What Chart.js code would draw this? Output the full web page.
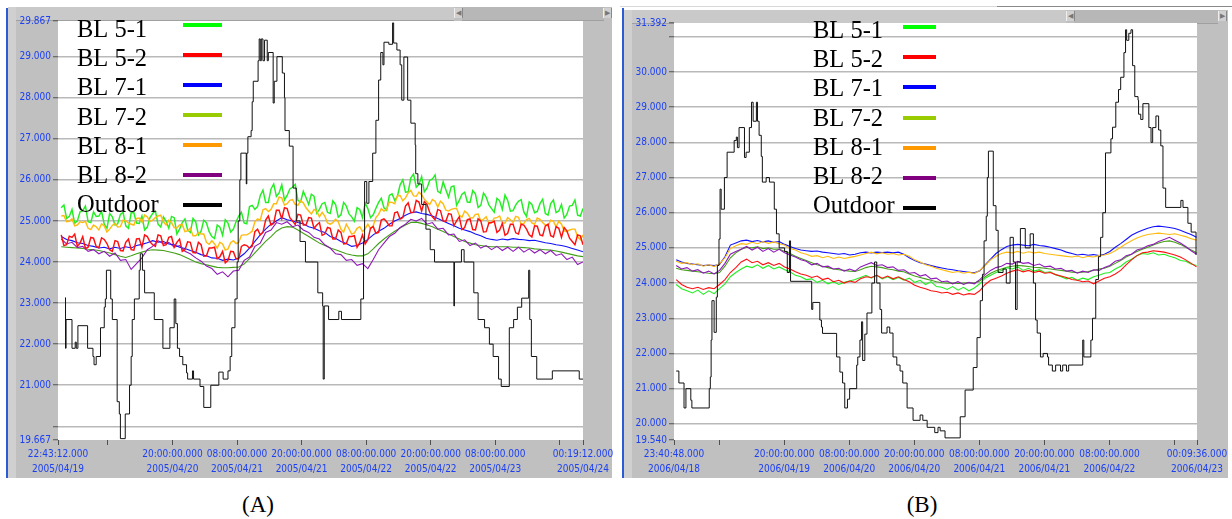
<!DOCTYPE html>
<html>
<head>
<meta charset="utf-8">
<script src="https://cdn.jsdelivr.net/npm/chart.js@4.4.1/dist/chart.umd.min.js"></script>
<style>
  html, body { margin: 0; padding: 0; background: #fff; overflow: hidden; }
  #root { position: relative; width: 1232px; height: 519px; }
  .abs { position: absolute; }
  .btn { position: absolute; width: 7px; height: 10px; background: #d0d0d0; border-left: 1px solid #eee; border-right: 1px solid #888;
         font: 7px sans-serif; color: #777; line-height: 10px; text-align: center; }
  .cap { position: absolute; font-family: 'Liberation Serif', 'Times New Roman', serif; font-size: 23px; text-align: center; line-height: 28px; color: #000; }
  canvas { position: absolute; }
</style>
</head>
<body>
<div id="root">
  <!-- panel A frame -->
  <div class="abs" style="left:6px;top:8px;width:2px;height:470px;background:#2b5bd6"></div>
  <div class="abs" style="left:8px;top:7px;width:604px;height:471px;background:#c0c0c0"></div>
  <div class="abs" style="left:8px;top:7px;width:8px;height:471px;background:#d0d0d0"></div>
  <div class="abs" style="left:16px;top:7px;width:438px;height:13px;background:#c9c9c9;border-bottom:1px solid #a0a0a0"></div>
  <div class="abs" style="left:462px;top:7px;width:142px;height:13px;background:#b7b7b7;border-bottom:1px solid #a0a0a0"></div>
  <div class="btn" style="left:454px;top:8px">&#9664;</div>
  <div class="btn" style="left:603px;top:8px">&#9654;</div>

  <!-- panel B frame -->
  <div class="abs" style="left:620px;top:6px;width:612px;height:1px;background:#d8d8d8"></div>
  <div class="abs" style="left:997px;top:6px;width:235px;height:1px;background:#8a8a8a"></div>
  <div class="abs" style="left:622px;top:8px;width:2px;height:470px;background:#2b5bd6"></div>
  <div class="abs" style="left:624px;top:10px;width:604px;height:468px;background:#c0c0c0"></div>
  <div class="abs" style="left:624px;top:10px;width:8px;height:468px;background:#d0d0d0"></div>
  <div class="abs" style="left:632px;top:10px;width:434px;height:13px;background:#c9c9c9;border-bottom:1px solid #a0a0a0"></div>
  <div class="abs" style="left:1074px;top:10px;width:144px;height:13px;background:#b7b7b7;border-bottom:1px solid #a0a0a0"></div>
  <div class="btn" style="left:1066px;top:11px">&#9664;</div>
  <div class="btn" style="left:1218px;top:11px">&#9654;</div>

  <canvas id="chartA" width="612" height="471" style="left:8px;top:7px"></canvas>
  <canvas id="chartB" width="606" height="468" style="left:624px;top:10px"></canvas>

  <div class="cap" style="left:208px;top:491px;width:100px">(A)</div>
  <div class="cap" style="left:872px;top:491px;width:100px">(B)</div>
</div>

<script>
// ---- series ----
const seriesNames = ['BL 5-1', 'BL 5-2', 'BL 7-1', 'BL 7-2', 'BL 8-1', 'BL 8-2', 'Outdoor'];
const lineColors = ['#22ee22', '#ff1010', '#1010ff', '#44a018', '#ffbb11', '#8e1ab8', '#111111'];
const legendColors = ['#00ff00', '#ff0000', '#0000ff', '#99cc00', '#ff9900', '#800080', '#000000'];
const drawOrder = [3, 1, 4, 6, 2, 5, 0];

// (A) 2005, hourly samples starting 0.6 h after 22:43:12 04/19
const firstHourA = 0.6;
const bl51A = [
  25.32,25.06,25.28,25.00,25.25,24.98,25.22,25.12,24.92,25.18,
  24.90,25.16,24.88,25.20,24.95,25.12,24.85,25.18,24.92,25.10,
  24.82,25.08,24.80,25.05,24.72,24.98,24.75,24.95,24.62,24.90,
  24.65,24.95,24.80,25.12,24.95,25.35,25.28,25.62,25.45,25.78,
  25.60,25.88,25.62,25.82,25.50,25.72,25.40,25.60,25.28,25.45,
  25.18,25.40,25.15,25.36,25.10,25.32,25.08,25.30,25.15,25.45,
  25.32,25.62,25.50,25.88,25.70,26.05,25.82,26.08,25.80,26.02,
  25.72,25.95,25.58,25.85,25.50,25.70,25.45,25.66,25.38,25.58,
  25.30,25.55,25.28,25.50,25.25,25.48,25.22,25.46,25.20,25.42,
  25.18,25.42,25.20,25.40,25.16,25.38,25.14,25.30];
// extra half-hour readings of the noisiest loggers
const bl51AHalf = [
  25.39,25.11,24.94,25.22,25.36,24.96,25.11,25.23,24.82,25.10,
  24.93,25.21,24.82,25.20,24.94,24.78,25.08,25.24,24.85,24.99,
  25.11,24.68,24.96,24.78,25.06,24.66,25.02,24.74,24.57,24.85,
  25.03,24.73,24.98,25.21,24.93,25.38,25.35,25.75,25.45,25.90,
  25.68,25.51,25.78,25.89,25.46,25.57,25.65,25.19,25.42,25.21,
  25.49,25.09,25.45,25.17,24.99,25.28,25.44,25.08,25.31,25.55,
  25.26,25.66,25.60,26.00,25.71,26.14,25.89,25.71,25.99,26.12,
  25.68,25.76,25.83,25.38,25.65,25.46,25.74,25.33,25.68,25.39,
  25.21,25.49,25.63,25.24,25.39,25.52,25.11,25.40,25.23,25.53,
  25.14,25.51,25.24,25.07,25.36,25.51,25.12];
const bl52A = [
  24.66,24.42,24.60,24.38,24.62,24.36,24.58,24.35,24.55,24.30,
  24.52,24.28,24.48,24.30,24.56,24.36,24.62,24.42,24.66,24.40,
  24.60,24.36,24.56,24.30,24.48,24.22,24.42,24.15,24.34,24.08,
  24.26,24.04,24.25,24.08,24.42,24.34,24.74,24.66,25.02,24.90,
  25.26,25.05,25.30,25.00,25.16,24.90,25.08,24.82,24.96,24.68,
  24.82,24.56,24.72,24.45,24.62,24.36,24.66,24.54,24.86,24.72,
  25.05,24.88,25.20,25.04,25.36,25.20,25.50,25.24,25.40,25.10,
  25.28,25.00,25.18,24.88,25.10,24.84,25.05,24.78,25.00,24.74,
  24.96,24.72,24.94,24.70,24.92,24.68,24.90,24.66,24.88,24.66,
  24.88,24.64,24.86,24.60,24.76,24.50,24.66,24.42];
const bl52AHalf = [
  24.40,24.63,24.68,24.46,24.33,24.60,24.38,24.59,24.45,24.26,
  24.50,24.27,24.56,24.29,24.57,24.66,24.49,24.38,24.64,24.42,
  24.62,24.48,24.26,24.49,24.23,24.48,24.14,24.34,24.36,24.13,
  23.98,24.26,24.08,24.38,24.40,24.38,24.80,24.72,25.12,24.94,
  25.26,25.32,25.08,24.91,25.14,24.90,25.07,24.90,24.65,24.84,
  24.56,24.78,24.44,24.62,24.64,24.47,24.44,24.82,24.70,25.02,
  24.98,24.88,25.22,25.08,25.44,25.21,25.46,25.47,25.21,25.03,
  25.25,24.99,25.16,25.00,24.79,25.03,24.79,25.05,24.73,24.95,
  24.99,24.78,24.65,24.92,24.71,24.92,24.80,24.61,24.87,24.64,
  24.92,24.61,24.82,24.84,24.58,24.42,24.64];
const bl71A = [
  24.62,24.55,24.52,24.47,24.45,24.40,24.38,24.34,24.36,24.32,
  24.36,24.33,24.37,24.34,24.40,24.43,24.47,24.52,24.48,24.50,
  24.44,24.42,24.36,24.33,24.28,24.24,24.18,24.15,24.10,24.09,
  24.04,24.07,24.05,24.10,24.20,24.34,24.50,24.66,24.80,24.92,
  25.00,25.08,25.03,25.00,24.96,24.93,24.86,24.82,24.76,24.72,
  24.62,24.58,24.50,24.45,24.38,24.40,24.46,24.55,24.66,24.75,
  24.82,24.92,25.00,25.06,25.14,25.20,25.22,25.18,25.16,25.12,
  25.06,25.00,24.94,24.88,24.82,24.78,24.74,24.68,24.64,24.58,
  24.55,24.53,24.56,24.54,24.57,24.55,24.54,24.52,24.53,24.50,
  24.47,24.45,24.42,24.40,24.37,24.33,24.29,24.25];
const bl72A = [
  24.37,24.36,24.35,24.34,24.33,24.31,24.30,24.28,24.25,24.22,
  24.18,24.14,24.11,24.15,24.20,24.24,24.28,24.30,24.29,24.28,
  24.25,24.22,24.18,24.12,24.06,24.00,23.96,23.93,23.90,23.87,
  23.86,23.86,23.87,23.88,23.95,24.08,24.22,24.36,24.50,24.62,
  24.75,24.83,24.86,24.85,24.78,24.70,24.62,24.54,24.46,24.40,
  24.34,24.30,24.25,24.20,24.17,24.15,24.15,24.20,24.32,24.45,
  24.56,24.66,24.75,24.83,24.90,24.96,24.97,24.94,24.90,24.86,
  24.80,24.74,24.68,24.62,24.56,24.50,24.46,24.42,24.40,24.38,
  24.37,24.37,24.37,24.37,24.36,24.36,24.35,24.34,24.32,24.31,
  24.30,24.29,24.27,24.24,24.21,24.18,24.15,24.13];
const bl81A = [
  25.12,24.98,25.05,24.90,24.96,24.82,24.90,24.78,24.88,24.80,
  24.94,24.86,25.00,24.92,25.06,24.97,25.10,25.02,25.12,24.98,
  25.02,24.84,24.90,24.74,24.82,24.64,24.68,24.48,24.52,24.34,
  24.44,24.32,24.52,24.48,24.66,24.70,24.98,25.02,25.30,25.28,
  25.42,25.56,25.42,25.52,25.38,25.44,25.24,25.28,25.10,25.12,
  24.92,25.04,24.80,24.92,24.68,24.82,24.74,24.92,24.88,25.16,
  25.24,25.46,25.42,25.62,25.56,25.74,25.60,25.64,25.46,25.52,
  25.34,25.42,25.24,25.30,25.14,25.24,25.08,25.16,25.00,25.10,
  24.96,25.08,24.95,25.08,24.96,25.09,24.94,25.06,24.92,25.04,
  24.90,25.02,24.86,24.92,24.74,24.80,24.62,24.66];
const bl81AHalf = [
  25.13,24.99,24.88,24.98,24.99,24.79,24.86,24.93,24.73,24.89,
  24.85,25.02,24.95,24.90,25.07,25.14,24.99,25.08,25.14,24.90,
  24.96,24.83,24.91,24.76,24.64,24.71,24.68,24.43,24.44,24.48,
  24.29,24.47,24.45,24.65,24.66,24.75,25.05,25.27,25.23,25.42,
  25.58,25.39,25.50,25.40,25.49,25.32,25.17,25.24,25.21,24.95,
  24.96,24.98,24.73,24.81,24.71,24.86,24.81,24.81,25.08,25.30,
  25.28,25.45,25.61,25.49,25.68,25.61,25.70,25.53,25.40,25.48,
  25.48,25.26,25.28,25.31,25.09,25.19,25.07,25.17,25.04,24.94,
  25.07,25.12,24.95,25.03,25.11,24.92,25.03,24.95,25.07,24.96,
  24.88,24.99,24.99,24.76,24.78,24.80,24.54];
const bl82A = [
  24.56,24.44,24.48,24.35,24.38,24.26,24.30,24.20,24.26,24.14,
  24.22,24.04,24.06,23.82,23.96,24.10,24.30,24.38,24.52,24.44,
  24.48,24.36,24.40,24.26,24.20,24.10,24.02,23.90,23.84,23.70,
  23.76,23.64,23.78,23.80,24.04,24.12,24.38,24.46,24.72,24.78,
  24.96,24.92,24.98,24.86,24.90,24.78,24.72,24.60,24.56,24.42,
  24.34,24.20,24.18,24.04,24.06,23.92,23.96,23.84,24.06,24.30,
  24.46,24.62,24.70,24.84,24.92,25.04,25.00,25.06,24.92,24.96,
  24.80,24.82,24.66,24.68,24.50,24.54,24.40,24.46,24.34,24.40,
  24.30,24.38,24.28,24.36,24.26,24.36,24.24,24.32,24.22,24.30,
  24.20,24.28,24.16,24.20,24.06,24.12,23.94,24.00];
// outdoor logger: [hours, °C] at each level change
const outdoorA = [
  [1.3,23.13],[1.4,21.9],[1.5,22.6],[2.6,21.9],[3.2,22.05],[3.4,21.9],[3.7,22.45],[5.5,21.9],[6.5,21.7],[6.7,21.5],
  [7.1,21.7],[7.9,22.4],[8.6,22.9],[8.8,23.1],[9.0,23.8],[9.8,23.1],[10.1,22.6],[11.0,20.6],[11.4,20.3],[11.6,19.7],
  [12.5,20.3],[13.3,21.0],[13.6,21.7],[13.8,22.6],[14.2,23.1],[15.1,23.8],[15.3,24.2],[15.7,23.8],[16.1,23.25],[17.9,22.6],
  [19.5,21.9],[20.8,22.4],[21.6,23.1],[21.9,22.5],[22.2,21.9],[22.6,21.7],[23.2,21.5],[23.9,21.3],[24.1,21.15],[25.0,21.35],
  [25.2,21.15],[26.4,20.97],[27.1,20.46],[28.4,21.0],[29.9,21.32],[30.7,21.15],[31.6,21.35],[32.0,21.7],[32.3,22.4],[32.9,23.1],
  [33.3,24.0],[33.5,25.0],[33.8,26.0],[34.0,26.65],[35.0,25.9],[35.1,26.65],[35.3,27.05],[35.9,27.2],[36.1,27.9],[36.3,28.4],
  [37.2,28.9],[37.4,29.43],[37.6,28.9],[37.8,29.43],[38.1,28.9],[38.4,29.4],[38.9,28.9],[39.1,29.1],[40.0,27.87],[40.2,28.4],
  [40.7,29.0],[41.7,28.6],[42.1,28.0],[42.2,27.2],[43.0,26.82],[43.7,25.8],[44.3,25.0],[45.0,24.5],[46.0,24.0],[48.3,23.25],
  [49.2,22.93],[49.3,21.15],[49.5,22.93],[50.3,22.6],[52.2,22.8],[52.7,22.6],[56.3,23.1],[56.8,24.5],[57.0,25.96],[57.4,25.43],
  [57.8,25.96],[58.5,26.65],[59.1,27.45],[59.6,28.43],[60.0,29.1],[60.4,28.8],[60.6,29.35],[61.5,29.3],[62.2,29.82],[62.4,29.33],
  [63.0,29.16],[63.6,28.8],[63.9,27.94],[64.3,28.99],[65.0,27.94],[65.6,27.38],[66.4,26.85],[66.5,26.15],[66.9,25.9],[67.6,25.4],
  [68.4,24.8],[69.2,24.3],[70.0,24.0],[73.6,22.93],[73.7,24.0],[75.0,24.3],[75.5,24.0],[77.3,23.25],[78.1,22.6],[79.3,22.4],
  [80.2,22.0],[80.9,21.7],[81.9,21.15],[82.4,20.97],[83.9,22.4],[84.7,22.6],[85.4,22.9],[86.2,23.12],[87.5,23.8],[87.7,22.6],
  [88.0,21.7],[89.0,21.15],[91.9,21.35],[96.9,21.15],[97.6,21.15]];
const xMaxA = 97.6;
const xTicksA = [0, 9.28, 21.28, 33.28, 45.28, 57.28, 69.28, 81.28, 93.28, 97.6];
const xTickLabelsA = [['22:43:12.000', '2005/04/19'], '', ['20:00:00.000', '2005/04/20'], ['08:00:00.000', '2005/04/21'],
  ['20:00:00.000', '2005/04/21'], ['08:00:00.000', '2005/04/22'], ['20:00:00.000', '2005/04/22'],
  ['08:00:00.000', '2005/04/23'], '', ['00:19:12.000', '2005/04/24']];
const yTicksA = [19.667, 20, 21, 22, 23, 24, 25, 26, 27, 28, 29, 29.867];
const yTickLabelsA = ['19.667', '', '21.000', '22.000', '23.000', '24.000', '25.000', '26.000', '27.000', '28.000', '29.000', '29.867'];

// (B) 2006, hourly samples starting 0.4 h after 23:40:48 04/18
const firstHourB = 0.4;
const bl51B = [
  23.96,23.84,23.78,23.72,23.80,23.68,23.78,23.70,23.84,23.98,
  24.18,24.30,24.40,24.48,24.44,24.52,24.42,24.50,24.40,24.46,
  24.38,24.32,24.22,24.18,24.10,24.12,24.02,24.08,23.98,24.04,
  23.96,24.02,24.06,24.10,24.16,24.22,24.14,24.22,24.12,24.18,
  24.10,24.16,24.08,24.14,24.02,24.08,23.96,24.04,23.90,23.88,
  23.82,23.90,23.80,23.88,23.78,23.86,23.98,24.14,24.22,24.30,
  24.36,24.44,24.40,24.46,24.36,24.42,24.34,24.38,24.30,24.32,
  24.24,24.18,24.12,24.16,24.08,24.14,24.10,24.18,24.22,24.28,
  24.30,24.40,24.48,24.60,24.68,24.78,24.84,24.82,24.86,24.80,
  24.82,24.76,24.72,24.64,24.62,24.54,24.50];
const bl52B = [
  24.10,23.96,23.88,23.84,23.88,23.82,23.87,23.84,23.96,24.10,
  24.30,24.44,24.60,24.68,24.58,24.62,24.52,24.58,24.50,24.56,
  24.46,24.40,24.32,24.26,24.22,24.16,24.20,24.10,24.14,24.04,
  24.08,24.00,24.06,24.02,24.12,24.18,24.16,24.22,24.14,24.20,
  24.12,24.18,24.10,24.04,23.94,23.88,23.84,23.78,23.76,23.72,
  23.74,23.68,23.72,23.66,23.70,23.68,23.78,23.96,24.08,24.14,
  24.20,24.28,24.34,24.38,24.32,24.36,24.30,24.34,24.28,24.30,
  24.24,24.20,24.16,24.10,24.08,24.04,24.06,23.98,24.06,24.14,
  24.18,24.26,24.36,24.52,24.66,24.78,24.86,24.88,24.92,24.90,
  24.88,24.84,24.80,24.74,24.66,24.56,24.46];
const bl71B = [
  24.66,24.60,24.56,24.54,24.52,24.50,24.51,24.50,24.53,24.75,
  25.08,25.14,25.20,25.22,25.18,25.21,25.17,25.20,25.16,25.18,
  25.10,25.04,24.98,24.94,24.92,24.90,24.91,24.88,24.86,24.84,
  24.82,24.84,24.80,24.82,24.86,24.88,24.86,24.88,24.87,24.88,
  24.86,24.88,24.82,24.72,24.64,24.58,24.54,24.50,24.46,24.43,
  24.40,24.38,24.35,24.33,24.31,24.29,24.35,24.52,24.68,24.84,
  24.95,25.04,25.08,25.10,25.08,25.06,25.10,25.07,25.05,25.02,
  24.98,24.94,24.88,24.84,24.80,24.82,24.79,24.81,24.78,24.82,
  24.90,25.02,25.12,25.24,25.36,25.44,25.50,25.56,25.60,25.62,
  25.60,25.58,25.55,25.50,25.44,25.38,25.30];
const bl72B = [
  24.42,24.38,24.36,24.34,24.32,24.30,24.28,24.27,24.30,24.48,
  24.72,24.86,24.96,25.02,25.00,25.03,24.98,25.00,24.96,24.97,
  24.90,24.84,24.76,24.70,24.64,24.58,24.52,24.48,24.44,24.40,
  24.38,24.36,24.34,24.33,24.38,24.44,24.48,24.46,24.44,24.40,
  24.38,24.34,24.32,24.26,24.20,24.16,24.12,24.08,24.04,24.01,
  24.00,24.00,23.99,24.00,24.01,24.00,24.06,24.18,24.28,24.35,
  24.40,24.45,24.48,24.50,24.49,24.47,24.45,24.44,24.42,24.40,
  24.38,24.36,24.34,24.31,24.30,24.31,24.33,24.36,24.40,24.42,
  24.48,24.56,24.64,24.74,24.82,24.90,24.96,25.02,25.08,25.14,
  25.18,25.20,25.16,25.10,25.02,24.94,24.86];
const bl81B = [
  24.62,24.56,24.58,24.52,24.55,24.48,24.52,24.47,24.55,24.72,
  24.98,25.06,25.12,25.10,25.16,25.12,25.18,25.13,25.17,25.12,
  25.08,24.98,24.94,24.86,24.82,24.76,24.78,24.72,24.76,24.70,
  24.74,24.70,24.73,24.76,24.80,24.84,24.88,24.83,24.86,24.82,
  24.84,24.80,24.82,24.76,24.66,24.60,24.52,24.48,24.42,24.38,
  24.34,24.30,24.33,24.28,24.31,24.27,24.36,24.50,24.66,24.76,
  24.84,24.88,24.86,24.90,24.85,24.89,24.86,24.88,24.84,24.82,
  24.80,24.78,24.76,24.74,24.77,24.72,24.76,24.74,24.78,24.80,
  24.84,24.92,25.02,25.12,25.20,25.28,25.34,25.38,25.40,25.42,
  25.40,25.38,25.40,25.36,25.32,25.26,25.22];
const bl82B = [
  24.50,24.40,24.44,24.34,24.38,24.28,24.34,24.26,24.36,24.56,
  24.82,24.90,24.96,25.04,24.94,25.02,24.90,24.98,24.88,24.96,
  24.86,24.80,24.74,24.66,24.62,24.52,24.56,24.46,24.48,24.40,
  24.42,24.34,24.40,24.34,24.46,24.52,24.58,24.50,24.52,24.44,
  24.46,24.36,24.38,24.28,24.30,24.20,24.24,24.12,24.14,24.04,
  24.06,23.98,24.04,23.96,24.02,23.98,24.10,24.24,24.36,24.44,
  24.48,24.56,24.54,24.62,24.56,24.58,24.50,24.54,24.46,24.48,
  24.40,24.42,24.34,24.36,24.28,24.34,24.30,24.38,24.36,24.44,
  24.50,24.62,24.66,24.78,24.82,24.94,24.98,25.06,25.10,25.18,
  25.24,25.30,25.22,25.14,25.04,24.92,24.82];
const outdoorB = [
  [0.4,21.5],[0.9,21.16],[1.85,20.45],[2.2,21.0],[3.1,20.67],[3.3,20.45],[6.5,21.0],[6.7,21.33],[6.85,22.38],[7.0,23.5],
  [7.4,22.6],[7.8,23.6],[8.0,24.5],[8.3,25.25],[8.5,26.67],[8.7,26.1],[9.3,27.0],[9.8,27.72],[11.1,28.05],[11.5,28.15],
  [11.7,27.85],[12.0,28.42],[13.0,27.57],[13.3,27.72],[13.9,28.42],[14.3,29.14],[14.6,28.6],[15.2,29.14],[15.4,28.6],[15.7,28.2],
  [16.1,27.6],[16.3,26.87],[17.0,27.0],[17.6,26.87],[18.5,26.1],[18.9,25.4],[19.4,25.0],[20.4,24.9],[20.9,24.3],[21.3,25.2],
  [21.5,24.05],[25.4,23.25],[25.6,23.45],[26.9,22.95],[27.2,22.75],[27.4,22.57],[30.0,21.9],[30.6,21.47],[31.1,21.16],[31.5,20.45],
  [32.0,20.7],[32.4,21.0],[33.7,21.67],[33.9,21.9],[34.3,22.38],[34.6,22.9],[34.8,21.8],[35.2,22.55],[35.6,23.15],[36.5,24.0],
  [37.0,24.6],[37.4,24.0],[38.0,23.25],[38.3,22.58],[39.3,22.75],[39.8,22.58],[40.4,21.9],[41.1,21.67],[41.7,21.5],[42.2,21.16],
  [43.0,20.45],[44.1,20.1],[45.4,20.25],[45.9,20.1],[46.7,19.9],[48.1,19.75],[48.7,19.9],[49.1,19.8],[50.0,19.6],[52.8,20.2],
  [53.7,20.96],[55.2,21.6],[55.9,22.45],[56.5,23.5],[56.9,24.25],[57.2,25.2],[57.6,25.9],[57.8,27.0],[58.0,27.75],[58.9,26.2],
  [59.4,25.5],[59.8,24.3],[60.7,24.4],[61.3,24.0],[62.0,25.3],[62.6,24.6],[63.0,23.25],[63.3,24.6],[63.9,25.55],[64.8,25.0],
  [65.7,25.4],[66.3,24.0],[66.7,22.95],[67.0,22.58],[67.6,21.9],[68.1,22.0],[68.9,21.9],[69.1,21.67],[69.8,21.5],[70.4,21.67],
  [71.3,21.5],[71.7,21.67],[72.4,21.5],[72.8,21.67],[75.4,22.38],[75.6,21.9],[76.9,22.38],[77.2,23.0],[77.8,24.1],[78.3,24.75],
  [78.7,25.3],[79.1,26.0],[79.6,27.7],[80.6,28.1],[80.9,28.43],[81.5,29.14],[82.0,29.5],[82.4,29.85],[83.0,30.55],[83.3,31.2],
  [83.5,30.9],[83.9,31.1],[84.3,31.2],[84.6,30.18],[85.0,29.3],[85.6,29.2],[85.7,28.8],[86.1,28.65],[86.5,29.1],[87.6,28.42],
  [88.0,28.0],[88.3,28.42],[88.9,28.75],[89.4,28.35],[89.8,27.9],[90.2,26.7],[90.7,26.15],[93.5,26.35],[93.9,26.15],[94.8,25.7],
  [95.4,25.45],[96.3,24.8]];
const xMaxB = 96.48;
const xTicksB = [0, 8.32, 20.32, 32.32, 44.32, 56.32, 68.32, 80.32, 92.32, 96.48];
const xTickLabelsB = [['23:40:48.000', '2006/04/18'], '', ['20:00:00.000', '2006/04/19'], ['08:00:00.000', '2006/04/20'],
  ['20:00:00.000', '2006/04/20'], ['08:00:00.000', '2006/04/21'], ['20:00:00.000', '2006/04/21'],
  ['08:00:00.000', '2006/04/22'], '', ['00:09:36.000', '2006/04/23']];
const yTicksB = [19.54, 20, 21, 22, 23, 24, 25, 26, 27, 28, 29, 30, 31, 31.392];
const yTickLabelsB = ['19.540', '20.000', '21.000', '22.000', '23.000', '24.000', '25.000', '26.000', '27.000', '28.000', '29.000', '30.000', '', '31.392'];

// ---- drawing ----
const tickBlue = '#1d40f2';
const tickFont = { family: "'DejaVu Sans Condensed', 'Liberation Sans', sans-serif", size: 10, lineHeight: 1.5 };
const noisyWidth = 1.45;   // the scattered loggers read as a thicker band

const plotBg = {
  id: 'plotBg',
  beforeDraw(chart) {
    const { ctx, chartArea: a } = chart;
    ctx.save();
    ctx.fillStyle = '#fff';
    ctx.fillRect(a.left, a.top, a.right - a.left, a.bottom - a.top);
    ctx.restore();
  }
};

// legend: label text first, colour bar after it
const sideLegend = {
  id: 'sideLegend',
  afterDatasetsDraw(chart, args, o) {
    const ctx = chart.ctx;
    ctx.save();
    ctx.font = "24.5px 'Liberation Serif', 'Times New Roman', serif";
    ctx.textBaseline = 'alphabetic';
    seriesNames.forEach((name, i) => {
      ctx.fillStyle = '#000';
      ctx.fillText(name, o.textX, o.textY + i * o.textStep);
      ctx.fillStyle = legendColors[i];
      ctx.fillRect(o.boxX, Math.round(o.boxY + i * o.boxStep) - 2, o.boxW, 4);
    });
    ctx.restore();
  }
};

function toPoints(first, vals, half) {
  const pts = vals.map((v, i) => ({ x: first + i, y: v }));
  if (half) half.forEach((v, i) => pts.push({ x: first + i + 0.5, y: v }));
  return pts.sort((a, b) => a.x - b.x);
}

function buildPanel(canvasId, p) {
  const indoorSets = p.indoor.map((vals, k) => ({
    label: seriesNames[k],
    data: toPoints(p.firstHour, vals, p.half[k]),
    borderColor: lineColors[k],
    borderWidth: p.half[k] ? noisyWidth : 1.1,
    pointRadius: 0,
    order: drawOrder[k]
  }));
  const outdoorSet = {
    label: seriesNames[6],
    data: p.outdoor.map(([h, v]) => ({ x: h, y: v })),
    borderColor: lineColors[6],
    borderWidth: 1,
    pointRadius: 0,
    stepped: 'before',
    order: drawOrder[6]
  };
  return new Chart(document.getElementById(canvasId), {
    type: 'line',
    data: { datasets: [...indoorSets, outdoorSet] },
    options: {
      responsive: false,
      animation: false,
      events: [],
      layout: { padding: p.padding },
      plugins: {
        legend: { display: false },
        tooltip: { enabled: false },
        sideLegend: p.legend
      },
      scales: {
        x: {
          type: 'linear', min: 0, max: p.xMax,
          afterBuildTicks: s => { s.ticks = p.xTicks.map(v => ({ value: v })); },
          afterFit: s => { s.height = 38; },
          ticks: { autoSkip: false, maxRotation: 0, minRotation: 0, padding: 2, color: tickBlue, font: tickFont,
                   callback: (v, i) => p.xLabels[i] },
          grid: { drawOnChartArea: false, tickLength: 5, tickColor: '#505050', tickWidth: 1 },
          border: { display: false }
        },
        y: {
          type: 'linear', min: p.yMin, max: p.yMax,
          afterBuildTicks: s => { s.ticks = p.yTicks.map(v => ({ value: v })); },
          afterFit: s => { s.width = 50; },
          ticks: { autoSkip: false, padding: 2, color: tickBlue, font: tickFont,
                   callback: (v, i) => p.yLabels[i] },
          grid: {
            color: c => (c.index === 0 || c.index === p.yTicks.length - 1) ? 'rgba(0,0,0,0)' : '#b9b9b9',
            lineWidth: 1.5, tickLength: 5, tickColor: '#505050', tickWidth: 1
          },
          border: { display: false }
        }
      }
    },
    plugins: [plotBg, sideLegend]
  });
}

buildPanel('chartA', {
  indoor: [bl51A, bl52A, bl71A, bl72A, bl81A, bl82A], half: [bl51AHalf, bl52AHalf, null, null, bl81AHalf, null],
  outdoor: outdoorA, firstHour: firstHourA,
  xMax: xMaxA, xTicks: xTicksA, xLabels: xTickLabelsA,
  yMin: yTicksA[0], yMax: yTicksA[yTicksA.length - 1], yTicks: yTicksA, yLabels: yTickLabelsA,
  padding: { left: 0, top: 14, right: 37, bottom: 0 },
  legend: { textX: 69, textY: 30, textStep: 29.2, boxX: 175, boxY: 17.5, boxStep: 30, boxW: 39 }
});

buildPanel('chartB', {
  indoor: [bl51B, bl52B, bl71B, bl72B, bl81B, bl82B], half: [null, null, null, null, null, null],
  outdoor: outdoorB, firstHour: firstHourB,
  xMax: xMaxB, xTicks: xTicksB, xLabels: xTickLabelsB,
  yMin: yTicksB[0], yMax: yTicksB[yTicksB.length - 1], yTicks: yTicksB, yLabels: yTickLabelsB,
  padding: { left: 0, top: 13, right: 33, bottom: 0 },
  legend: { textX: 189, textY: 28, textStep: 29.2, boxX: 279, boxY: 17, boxStep: 30.2, boxW: 33 }
});
</script>
</body>
</html>
